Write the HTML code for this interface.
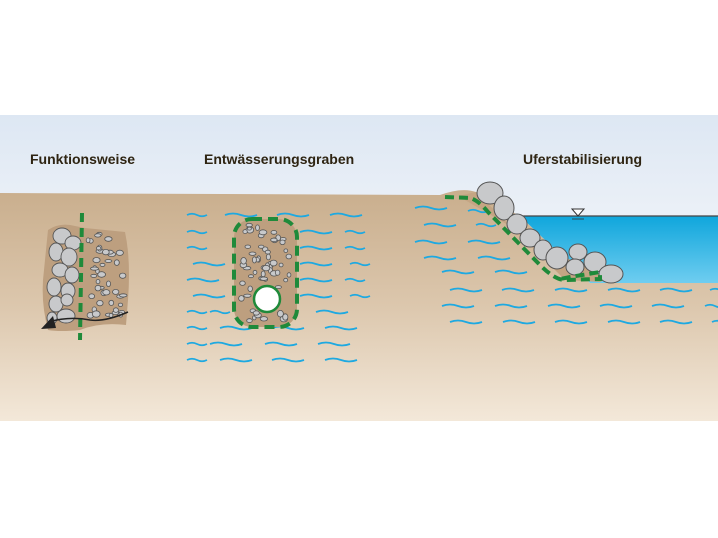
<!DOCTYPE html>
<html><head><meta charset="utf-8"><style>
html,body{margin:0;padding:0;background:#fff;}
svg{display:block;}
text{font-family:"Liberation Sans",sans-serif;font-weight:bold;font-size:14px;fill:#2e2412;}
</style></head><body>
<svg width="718" height="538" viewBox="0 0 718 538" xmlns="http://www.w3.org/2000/svg">
<defs>
<linearGradient id="sky" x1="0" y1="0" x2="0" y2="1"><stop offset="0" stop-color="#dde7f3"/><stop offset="1" stop-color="#f5f7fa"/></linearGradient>
<linearGradient id="gnd" gradientUnits="userSpaceOnUse" x1="0" y1="190" x2="0" y2="421"><stop offset="0" stop-color="#c9ae8d"/><stop offset="0.5" stop-color="#dcc7ad"/><stop offset="1" stop-color="#f3e8d9"/></linearGradient>
<linearGradient id="wat" x1="0" y1="0" x2="0" y2="1"><stop offset="0" stop-color="#0fa6dc"/><stop offset="1" stop-color="#6fcdf0"/></linearGradient>
<path id="w" d="M0 0 q8 -3 16 0 t16 0" fill="none" stroke="#1ea9e1" stroke-width="1.8"/>
<path id="ws" d="M0 0 q5 -2.5 10 0 t10 0" fill="none" stroke="#1ea9e1" stroke-width="1.8"/>
</defs>
<rect x="0" y="115" width="718" height="170" fill="url(#sky)"/>
<path d="M0 193 L440 195 Q462 187 476 192 L520 216 L590 283 L718 283 L718 421 L0 421 Z" fill="url(#gnd)"/>
<text x="30" y="164">Funktionsweise</text>
<text x="204" y="164">Entwässerungsgraben</text>
<text x="523" y="164">Uferstabilisierung</text>

<path d="M520 216 L718 216 L718 283 L590 283 Z" fill="url(#wat)"/>
<line x1="520" y1="216" x2="718" y2="216" stroke="#444" stroke-width="1.2"/>
<path d="M572 209 l6 7 l6 -7 z" fill="#fff" stroke="#333" stroke-width="1"/>
<line x1="572" y1="219" x2="584" y2="219" stroke="#333" stroke-width="0.8"/>
<path d="M458 196 L476 192 L535 250 L565 280 L600 282 L610 278 L560 255 Z" fill="#c4a583"/>

<g>
<use href="#w" x="415" y="208"/><use href="#ws" x="468" y="211"/>
<use href="#w" x="424" y="225"/><use href="#ws" x="476" y="225"/>
<use href="#w" x="415" y="242"/><use href="#w" x="468" y="242"/>
<use href="#w" x="424" y="258"/><use href="#w" x="478" y="258"/>
<use href="#w" x="442" y="272"/><use href="#w" x="495" y="272"/>
<use href="#w" x="450" y="290"/><use href="#w" x="502" y="290"/><use href="#w" x="555" y="290"/><use href="#w" x="608" y="290"/><use href="#w" x="660" y="290"/><use href="#ws" x="710" y="290"/>
<use href="#w" x="442" y="306"/><use href="#w" x="495" y="306"/><use href="#w" x="548" y="306"/><use href="#w" x="600" y="306"/><use href="#w" x="652" y="306"/><use href="#ws" x="705" y="306"/>
<use href="#w" x="450" y="322"/><use href="#w" x="503" y="322"/><use href="#w" x="555" y="322"/><use href="#w" x="608" y="322"/><use href="#w" x="660" y="322"/><use href="#ws" x="712" y="322"/>
</g>
<g fill="#c8c9cb" stroke="#555" stroke-width="1">
<ellipse cx="490" cy="193" rx="13" ry="11"/>
<ellipse cx="504" cy="208" rx="10" ry="12"/>
<ellipse cx="517" cy="224" rx="10" ry="10"/>
<ellipse cx="530" cy="238" rx="10" ry="9"/>
<ellipse cx="543" cy="250" rx="9" ry="10"/>
<ellipse cx="557" cy="258" rx="11" ry="11"/>
<ellipse cx="578" cy="252" rx="9" ry="8"/>
<ellipse cx="575" cy="267" rx="9" ry="8"/>
<ellipse cx="595" cy="262" rx="11" ry="10"/>
<ellipse cx="611" cy="274" rx="12" ry="9"/>
</g>
<path d="M445 197 L470 198 Q478 200 488 212 L540 265 Q555 280 565 280 L600 279 L600 272 L570 277 L560 279" fill="none" stroke="#1f8a3a" stroke-width="4" stroke-dasharray="9,5"/>

<g>
<use href="#ws" x="187" y="215"/><use href="#w" x="225" y="215"/><use href="#w" x="277" y="215"/><use href="#w" x="330" y="215"/>
<use href="#ws" x="187" y="232"/><use href="#w" x="300" y="232"/><use href="#ws" x="345" y="232"/>
<use href="#ws" x="187" y="248"/><use href="#w" x="300" y="248"/><use href="#ws" x="345" y="248"/>
<use href="#w" x="193" y="264"/><use href="#w" x="300" y="264"/><use href="#ws" x="350" y="264"/>
<use href="#w" x="187" y="280"/><use href="#w" x="300" y="280"/><use href="#ws" x="345" y="280"/>
<use href="#w" x="193" y="296"/><use href="#w" x="300" y="296"/><use href="#ws" x="350" y="296"/>
<use href="#ws" x="187" y="312"/><use href="#ws" x="210" y="312"/><use href="#w" x="316" y="312"/>
<use href="#ws" x="187" y="328"/><use href="#w" x="220" y="328"/><use href="#w" x="272" y="328"/><use href="#w" x="325" y="328"/>
<use href="#ws" x="187" y="344"/><use href="#w" x="210" y="344"/><use href="#w" x="265" y="344"/><use href="#w" x="318" y="344"/>
<use href="#ws" x="187" y="360"/><use href="#w" x="220" y="360"/><use href="#w" x="272" y="360"/><use href="#w" x="325" y="360"/>
</g>
<rect x="234" y="219" width="63" height="108" rx="18" fill="#bd9f7f"/>
<g id="grav" fill="#c8c9cb" stroke="#555" stroke-width="0.8"></g>
<circle cx="267" cy="299" r="13" fill="#fff" stroke="#1f8a3a" stroke-width="2.5"/>
<rect x="234" y="219" width="63" height="108" rx="18" fill="none" stroke="#1f8a3a" stroke-width="4" stroke-dasharray="10,6"/>

<path d="M48 230 Q60 222 75 226 L85 228 L125 232 Q131 260 128 300 L126 325 Q100 322 80 330 Q60 332 48 330 Q40 300 44 270 Z" fill="#bd9f7f"/>
<g fill="#c8c9cb" stroke="#555" stroke-width="0.9">
<ellipse cx="62" cy="236" rx="9" ry="8"/><ellipse cx="73" cy="243" rx="8" ry="7"/>
<ellipse cx="56" cy="252" rx="7" ry="9"/><ellipse cx="69" cy="257" rx="8" ry="9"/>
<ellipse cx="60" cy="270" rx="8" ry="7"/><ellipse cx="72" cy="275" rx="7" ry="8"/>
<ellipse cx="54" cy="287" rx="7" ry="9"/><ellipse cx="68" cy="291" rx="7" ry="8"/>
<ellipse cx="56" cy="304" rx="7" ry="8"/><ellipse cx="67" cy="300" rx="6" ry="6"/>
<ellipse cx="66" cy="316" rx="9" ry="7"/><ellipse cx="52" cy="318" rx="5" ry="6"/>
</g>
<g id="grav2" fill="#c8c9cb" stroke="#555" stroke-width="0.8"></g>
<line x1="82" y1="213" x2="80" y2="340" stroke="#1f8a3a" stroke-width="4" stroke-dasharray="9,6"/>
<path d="M48 322 Q70 316 90 320 Q105 322 128 312" fill="none" stroke="#222" stroke-width="1.5"/>
<path d="M41 329 L53 316 L56 328 Z" fill="#222"/>
</svg>
<script>
function g(id,x0,x1,y0,y1,n,seed,skip){var s=seed,el=document.getElementById(id),h='';function r(){s=(s*9301+49297)%233280;return s/233280;}
for(var i=0;i<n;i++){var x=x0+r()*(x1-x0),y=y0+r()*(y1-y0);if(skip&&skip(x,y))continue;var rx=1.8+r()*2.2,ry=1.5+r()*1.8;h+='<ellipse cx="'+x.toFixed(1)+'" cy="'+y.toFixed(1)+'" rx="'+rx.toFixed(1)+'" ry="'+ry.toFixed(1)+'"/>';}
el.innerHTML=h;}
g('grav',241,291,225,322,70,7,function(x,y){return (x-267)*(x-267)+(y-299)*(y-299)<260;});
g('grav2',88,124,232,320,45,3);
</script>
</body></html>
